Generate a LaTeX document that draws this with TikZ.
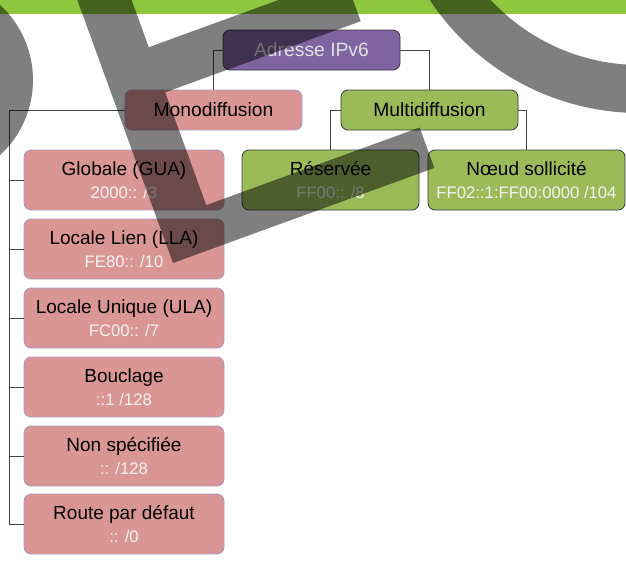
\documentclass[tikz,border=0pt]{standalone}
\usepackage{fontspec}
\setmainfont{Liberation Sans}
\usepackage{xcolor}
\usepackage{tikz}
\usetikzlibrary{positioning, calc}
\definecolor{barcolor}{RGB}{141,198,63}
\definecolor{rootcolor}{RGB}{128,100,162}
\definecolor{unicolor}{RGB}{217,150,148}
\definecolor{unidraw}{RGB}{172,152,200}
\definecolor{multicolor}{RGB}{155,187,89}
\definecolor{multidraw}{RGB}{58,58,58}
\definecolor{linkcolor}{RGB}{70,70,70}

\newcommand{\prefixtxt}[1]{{\fontsize{16.7}{23}\selectfont\color{white!95!black}#1}}

\begin{document}
\begin{tikzpicture}[
    x=1pt, y=-1pt,
    box/.style={draw, line width=0.8pt, rounded corners=7pt, inner sep=0pt, align=center, font=\fontsize{19}{23}\selectfont},
    rootbox/.style={box, fill=rootcolor, draw=multidraw, minimum width=177pt, minimum height=40pt, text=white!88!black, font=\fontsize{19.3}{23}\selectfont},
    unihead/.style={box, fill=unicolor, draw=unidraw, minimum width=177pt, minimum height=40pt, font=\fontsize{19.3}{23}\selectfont},
    multihead/.style={box, fill=multicolor, draw=multidraw, minimum width=177pt, minimum height=40pt, font=\fontsize{19.3}{23}\selectfont},
    unibox/.style={box, fill=unicolor, draw=unidraw, minimum width=200pt, minimum height=60pt},
    multibox/.style={box, fill=multicolor, draw=multidraw, minimum height=60pt},
    link/.style={draw=linkcolor, line width=0.7pt},
    watermark/.style={fill=black, fill opacity=0.5}
]
    \useasboundingbox (0,0) rectangle (626,560);

    % Top bar
    \fill[barcolor] (0,0) rectangle (626,14);

    % Root and families
    \node[rootbox] (ipv6) at (311.5,50) {Adresse IPv6};
    \node[unihead] (mono) at (213.5,110) {Monodiffusion};
    \node[multihead] (multi) at (429.5,110) {Multidiffusion};

    % Unicast types
    \node[unibox] (gua) at (124,180) {Globale (GUA)\\\prefixtxt{2000:: /3}};
    \node[unibox] (lla) at (124,249) {Locale Lien (LLA)\\\prefixtxt{FE80:: /10}};
    \node[unibox] (ula) at (124,318) {Locale Unique (ULA)\\\prefixtxt{FC00:: /7}};
    \node[unibox] (loop) at (124,387) {Bouclage\\\prefixtxt{::1 /128}};
    \node[unibox] (unspec) at (124,456) {Non spécifiée\\\prefixtxt{:: /128}};
    \node[unibox] (route) at (124,524) {Route par défaut\\\prefixtxt{:: /0}};

    % Multicast types
    \node[multibox, minimum width=177pt] (res) at (330.5,180) {Réservée\\\prefixtxt{FF00:: /8}};
    \node[multibox, minimum width=197pt] (snm) at (526.5,180) {Nœud sollicité\\\prefixtxt{FF02::1:FF00:0000 /104}};

    % Links
    \draw[link] (ipv6.west) -| (mono.north);
    \draw[link] (ipv6.east) -| (multi.north);
    \coordinate (bus) at (9.5,110);
    \draw[link] (mono.west) -- (bus) |- (route.west);
    \draw[link] (bus) |- (gua.west);
    \draw[link] (bus) |- (lla.west);
    \draw[link] (bus) |- (ula.west);
    \draw[link] (bus) |- (loop.west);
    \draw[link] (bus) |- (unspec.west);
    \draw[link] (multi.west) -| (res.north);
    \draw[link] (multi.east) -| (snm.north);

    % Watermark
    \begin{scope}
        \clip (0,0) rectangle (626,560);
        \fill[watermark, even odd rule] (-69,80) circle[radius=102pt] (-69,80) circle[radius=54pt];
        \begin{scope}[shift={(173,263)}, x={(0.94pt,0.342pt)}, y={(-0.342pt,0.94pt)}]
            \fill[watermark] (0,0) -- (278,0) -- (278,43) -- (51,43) -- (51,163) -- (259,163)
                -- (259,211) -- (51,211) -- (51,420) -- (0,420) -- cycle;
        \end{scope}
        \fill[watermark, even odd rule] (640,-139) circle[radius=252pt] (640,-139) circle[radius=204pt];
    \end{scope}
\end{tikzpicture}
\end{document}
